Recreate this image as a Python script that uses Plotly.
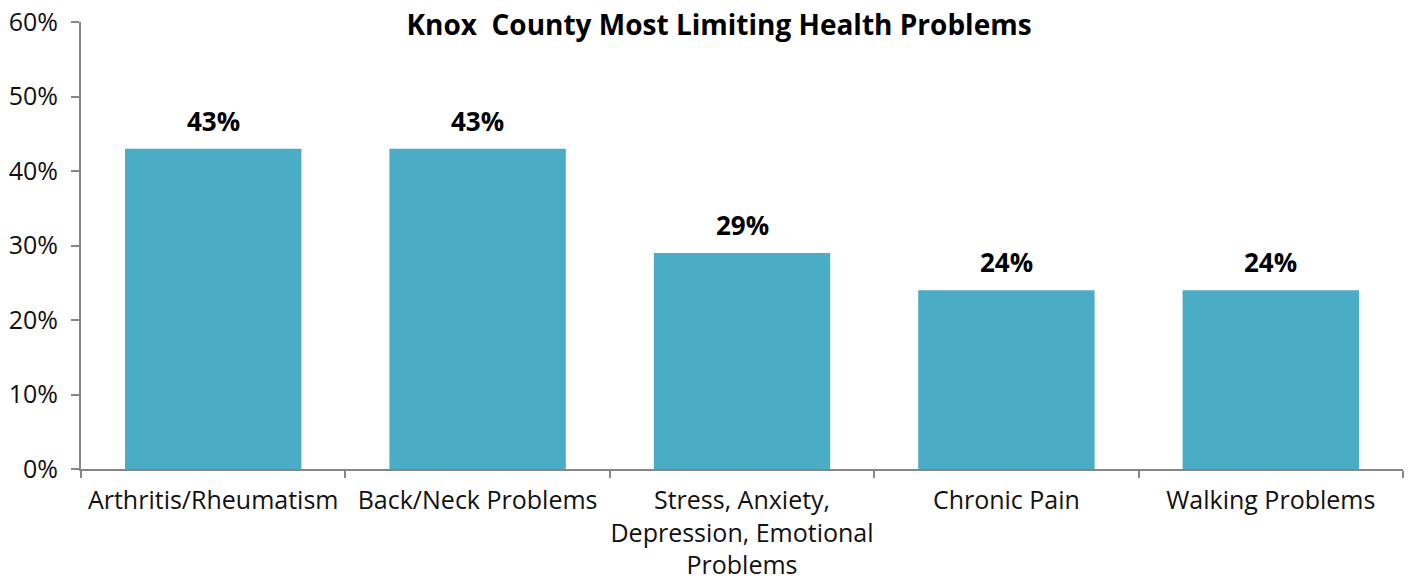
import plotly.graph_objects as go

categories = ["Arthritis/Rheumatism", "Back/Neck Problems",
              "Stress, Anxiety,<br>Depression, Emotional<br>Problems",
              "Chronic Pain", "Walking Problems"]
values = [0.43, 0.43, 0.29, 0.24, 0.24]
labels = ["43%", "43%", "29%", "24%", "24%"]
title_text = "Knox\u00a0 County Most Limiting Health Problems"

FONT = "Open Sans"
W, H = 1398, 572  # page has an 8px body margin

fig = go.Figure()
fig.add_trace(go.Bar(
    x=categories, y=values,
    marker=dict(color="#4BACC6", line=dict(width=0)),
    hoverinfo="skip",
))
for c, v, t in zip(categories, values, labels):
    fig.add_annotation(x=c, y=v, text="<b>%s</b>" % t, showarrow=False,
                       yanchor="bottom", yshift=8,
                       font=dict(family=FONT, size=26, color="#000"))

fig.update_layout(
    width=W, height=H,
    margin=dict(l=73, r=3, t=14, b=111),
    paper_bgcolor="white", plot_bgcolor="white",
    bargap=0.333,
    showlegend=False,
    font=dict(family=FONT, size=25, color="#111"),
    title=dict(text="<b>%s</b>" % title_text, x=711 / W, xanchor="center",
               y=1 - 17 / H, yanchor="middle",
               font=dict(family=FONT, size=28, color="#000")),
)
fig.update_yaxes(range=[0, 0.6], dtick=0.1, tickformat=".0%",
                 showgrid=False, zeroline=False, automargin=False,
                 showline=True, linecolor="#868686", linewidth=2,
                 ticks="outside", ticklen=8, tickcolor="#868686", tickwidth=2,
                 ticklabelstandoff=8, ticklabeloverflow="allow",
                 tickfont=dict(family=FONT, size=25, color="#111"))
fig.update_xaxes(showgrid=False, showline=True, linecolor="#868686", linewidth=2,
                 automargin=False, tickangle=0, ticklabeloverflow="allow",
                 ticks="outside", ticklen=7, tickcolor="#868686", tickwidth=2,
                 tickson="boundaries", ticklabelstandoff=8,
                 tickfont=dict(family=FONT, size=25, color="#111"))

fig.write_html("out.html")
